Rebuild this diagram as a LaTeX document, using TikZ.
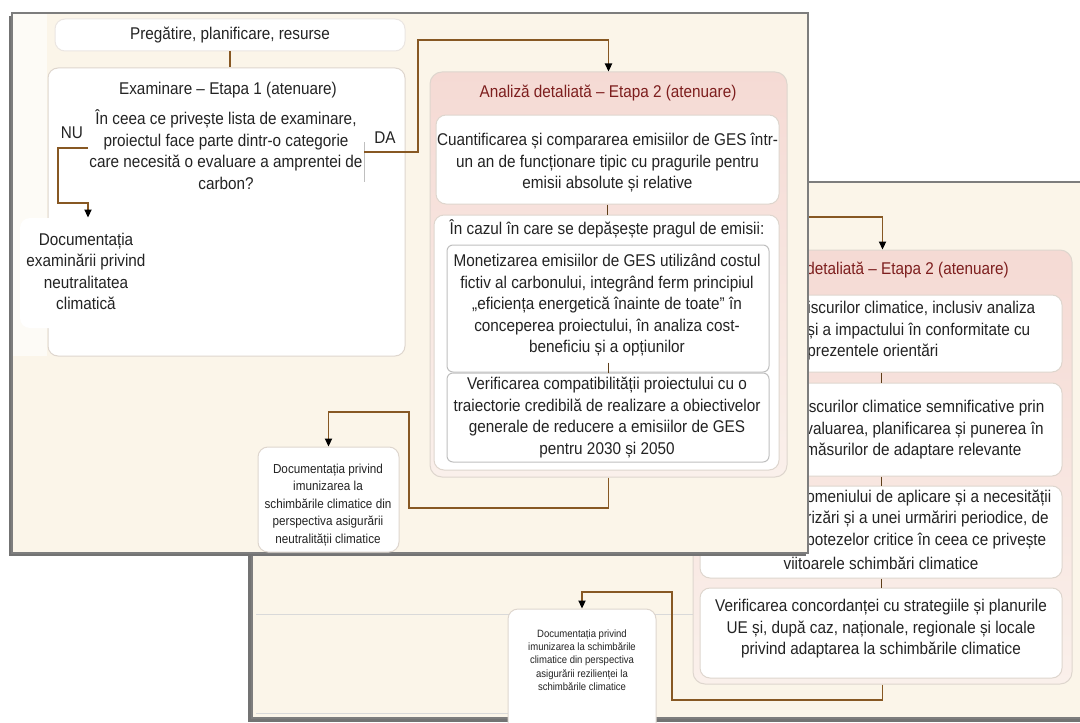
\documentclass[tikz,border=0pt]{standalone}
\usepackage{fontspec}
\setmainfont[FakeStretch=0.9]{Liberation Sans}
\usetikzlibrary{arrows.meta,fit}

\definecolor{pagecream}{RGB}{251,245,233}
\definecolor{pagegray}{RGB}{125,125,125}
\definecolor{boxedge}{RGB}{222,214,206}
\definecolor{pinktop}{RGB}{245,218,212}
\definecolor{pinkbot}{RGB}{250,240,235}
\definecolor{connbrown}{RGB}{135,88,35}
\definecolor{titlered}{RGB}{125,30,30}
\definecolor{inktext}{RGB}{35,35,35}

\tikzset{
  page/.style={fill=pagecream, draw=pagegray, line width=0.8pt},
  pageshadow/.style={fill=black!55},
  whitebox/.style={fit={#1}, inner sep=0pt, rounded corners=5pt, fill=white, draw=boxedge, line width=0.5pt},
  pinkbox/.style={fit={#1}, inner sep=0pt, rounded corners=6pt, top color=pinktop, bottom color=pinkbot, draw=boxedge, line width=0.5pt},
  txt/.style={font=\fontsize{8.5}{10.75}\selectfont, text=inktext, align=center, inner sep=0pt},
  smalltxt/.style={txt, font=\fontsize{6.5}{8.75}\selectfont},
  tinytxt/.style={txt, font=\fontsize{5.3}{6.6}\selectfont},
  titletxt/.style={txt, text=titlered},
  conn/.style={draw=connbrown, line width=0.7pt},
  arrowed/.style={conn, -{Triangle[length=4pt,width=3.6pt,color=black]}},
  tick/.style={draw=connbrown!70!black, line width=0.5pt},
  faint/.style={draw=black!15, line width=0.4pt}
}

\begin{document}
\begin{tikzpicture}[x=0.5pt, y=-0.5pt]
\useasboundingbox (0,0) rectangle (1080,722);
\fill[white] (0,0) rectangle (1080,722);

% pagina din spate (adaptare)
\fill[pageshadow] (248,186) rectangle (1090,722);
\draw[page] (252,182) rectangle (1090,718);
\draw[faint] (256,614) -- (700,614);
\draw[faint] (256,713) -- (508,713);

\node[pinkbox={(693,250) (1072,684)}] (bigB) {};
\node[titletxt, anchor=west] (bigBtitle) at (806,270) {detaliată – Etapa 2 (atenuare)};
\node[whitebox={(700,295) (1062,372)}] (boxB1) {};
\node[whitebox={(700,383) (1062,476)}] (boxB2) {};
\node[whitebox={(700,486) (1062,578)}] (boxB3) {};
\node[whitebox={(700,588) (1062,678)}] (boxB4) {};
\node[txt, align=left, anchor=west] (boxB1txt) at (807,331) {iscurilor climatice, inclusiv analiza\\și a impactului în conformitate cu\\prezentele orientări};
\node[txt, align=left, anchor=west] (boxB2txt) at (805,430) {iscurilor climatice semnificative prin\\valuarea, planificarea și punerea în\\măsurilor de adaptare relevante};
\node[txt, align=left, anchor=west] (boxB3txt) at (806,519.5) {omeniului de aplicare și a necesității\\rizări și a unei urmăriri periodice, de\\potezelor critice în ceea ce privește};
\node[txt] (boxB3end) at (881,563) {viitoarele schimbări climatice};
\node[txt] (boxB4txt) at (881,629) {Verificarea concordanței cu strategiile și planurile\\UE și, după caz, naționale, regionale și locale\\privind adaptarea la schimbările climatice};
\draw[tick] (boxB1.south) -- (boxB2.north);
\draw[tick] (boxB2.south) -- (boxB3.north);
\draw[tick] (boxB3.south) -- (boxB4.north);

\node[whitebox={(508,609) (656,735)}] (doc3) {};
\node[tinytxt] (doc3txt) at (582,660) {Documentația privind\\imunizarea la schimbările\\climatice din perspectiva\\asigurării rezilienței la\\schimbările climatice};

\coordinate (fromA) at (790,217);
\draw[arrowed] (fromA) -| (bigB.north);
\draw[arrowed] (bigB.south) |- (672,700) -- (672,592) -| (doc3.north);

% pagina din fata (atenuare)
\fill[pageshadow] (9,16) rectangle (806,556);
\draw[page] (12,13) rectangle (808,553);
\fill[white!60!pagecream] (13,14) rectangle (47,356);

\node[whitebox={(55,19) (405,51)}, draw=boxedge!60] (prep) {};
\node[txt] (preptxt) at (prep.center) {Pregătire, planificare, resurse};
\node[whitebox={(48,68) (405,356)}] (exam) {};
\node[txt] (examtitle) at (228,90) {Examinare – Etapa 1 (atenuare)};
\node[txt] (examq) at (226,149.5) {În ceea ce privește lista de examinare,\\proiectul face parte dintr-o categorie\\care necesită o evaluare a amprentei de\\carbon?};
\node[txt] (nu) at (72,133) {NU};
\node[txt] (da) at (385,138) {DA};
\node[whitebox={(20,218) (156,328)}, draw=none] (doc1) {};
\node[txt] (doc1txt) at (86,271.5) {Documentația\\examinării privind\\neutralitatea\\climatică};

\node[pinkbox={(430,72) (787,477)}] (bigA) {};
\node[titletxt] (bigAtitle) at (608,93) {Analiză detaliată – Etapa 2 (atenuare)};
\node[whitebox={(436,115) (779,204)}] (box1) {};
\node[txt] (box1txt) at (607.5,163) {Cuantificarea și compararea emisiilor de GES într-\\un an de funcționare tipic cu pragurile pentru\\emisii absolute și relative};
\node[whitebox={(434,215) (779,470)}] (cond) {};
\node[txt] (condtitle) at (607,229) {În cazul în care se depășește pragul de emisii:};
\node[whitebox={(447,245) (769,372)}, rounded corners=3pt, draw=black!25] (box2) {};
\node[txt] (box2txt) at (607,305.5) {Monetizarea emisiilor de GES utilizând costul\\fictiv al carbonului, integrând ferm principiul\\„eficiența energetică înainte de toate” în\\conceperea proiectului, în analiza cost-\\beneficiu și a opțiunilor};
\node[whitebox={(447,373) (769,462)}, rounded corners=3pt, draw=black!25] (box3) {};
\node[txt] (box3txt) at (607,417.5) {Verificarea compatibilității proiectului cu o\\traiectorie credibilă de realizare a obiectivelor\\generale de reducere a emisiilor de GES\\pentru 2030 și 2050};
\draw[tick] (box1.south) -- (box1.south |- cond.north);
\draw[tick] ([yshift=5pt]box2.south) -- (box2.south);

\node[whitebox={(258,447) (399,552)}] (doc2) {};
\node[smalltxt] (doc2txt) at (328,505) {Documentația privind\\imunizarea la\\schimbările climatice din\\perspectiva asigurării\\neutralității climatice};

% conectori
\draw[faint, draw=black!25] (364,142) -- (364,182);
\coordinate (daend) at (364,152);
\coordinate (nuend) at (88,148);
\draw[conn] (prep.south) -- (prep.south |- exam.north);
\draw[arrowed] (daend) -- (418,152) -- (418,40) -| (bigA.north);
\draw[arrowed] (nuend) -- (58,148) -- (58,203) -| (doc1.north);
\draw[arrowed] (bigA.south) |- (409,508) -- (409,412) -| (doc2.north);
\end{tikzpicture}
\end{document}
